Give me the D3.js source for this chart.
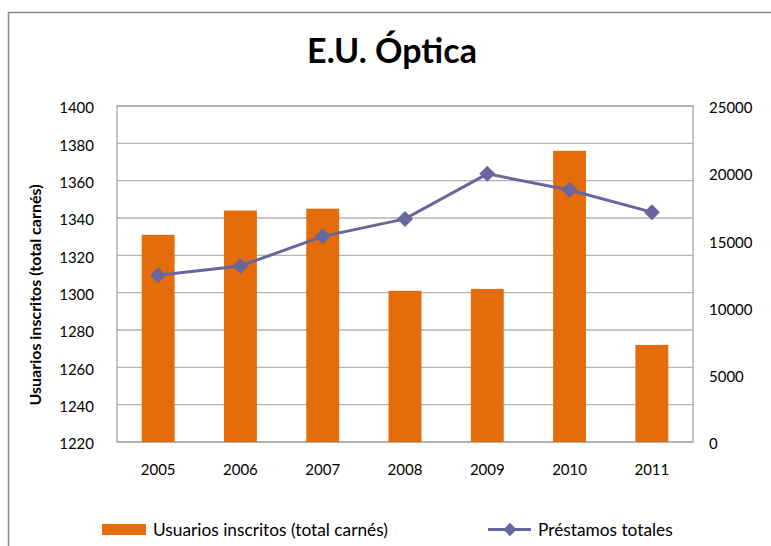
<!DOCTYPE html>
<html>
  <head>
    <meta charset="utf-8">
    <title>E.U. Óptica</title>
    <script type="text/javascript" src="https://d3js.org/d3.v7.min.js"></script>
    <style>
      body { margin: 0; background: #fff; }
      text { font-family: Lato, "Open Sans", sans-serif; fill: #000; }
    </style>
  </head>
  <body>
    <div id="chart"></div>
    <script type="text/javascript">
        // data
        var years = ["2005", "2006", "2007", "2008", "2009", "2010", "2011"];
        var usuarios = [1331, 1344, 1345, 1301, 1302, 1376, 1272];
        var prestamos = [12400, 13100, 15300, 16600, 19950, 18750, 17100];
        var leftTicks = [1220, 1240, 1260, 1280, 1300, 1320, 1340, 1360, 1380, 1400];
        var rightTicks = [0, 5000, 10000, 15000, 20000, 25000];

        var width = 771, height = 546;
        var margin = {top: 106, right: 78, bottom: 104, left: 117};
        var barColor = "#E46C0A";
        var lineColor = "#67679D";

        var svg = d3.select("#chart")
            .append("svg")
            .attr("width", width)
            .attr("height", height);

        // outer chart frame (runs off the right and bottom edge)
        svg.append("rect")
            .attr("x", 8.5).attr("y", 12.5)
            .attr("width", 800).attr("height", 600)
            .attr("fill", "none")
            .attr("stroke", "#8a8a8a")
            .attr("stroke-width", 1.5);

        var x = d3.scaleBand()
            .domain(years)
            .range([margin.left, width - margin.right])
            .paddingInner(0.6)
            .paddingOuter(0.3);

        var y1 = d3.scaleLinear()
            .domain([1220, 1400])
            .range([height - margin.bottom, margin.top]);

        var y2 = d3.scaleLinear()
            .domain([0, 25000])
            .range([height - margin.bottom, margin.top]);

        // gridlines
        svg.append("g")
            .selectAll("line")
            .data(leftTicks)
            .enter()
            .append("line")
                .attr("x1", margin.left)
                .attr("x2", width - margin.right)
                .attr("y1", function(d){ return y1(d); })
                .attr("y2", function(d){ return y1(d); })
                .attr("stroke", "#b3b3b3")
                .attr("stroke-width", 1.3);

        // plot border
        svg.append("rect")
            .attr("x", margin.left)
            .attr("y", margin.top)
            .attr("width", width - margin.right - margin.left)
            .attr("height", height - margin.bottom - margin.top)
            .attr("fill", "none")
            .attr("stroke", "#a6a6a6")
            .attr("stroke-width", 1.3);

        // left axis
        var leftAxis = svg.append("g")
            .attr("transform", "translate(" + margin.left + ",0)")
            .call(d3.axisLeft(y1).tickValues(leftTicks).tickSize(0).tickPadding(23).tickFormat(d3.format("d")));
        leftAxis.select(".domain").remove();
        leftAxis.selectAll("text")
            .attr("dy", "0.45em")
            .style("font-size", "15px");

        // right axis
        var rightAxis = svg.append("g")
            .attr("transform", "translate(" + (width - margin.right) + ",0)")
            .call(d3.axisRight(y2).tickValues(rightTicks).tickSize(0).tickPadding(16).tickFormat(d3.format("d")));
        rightAxis.select(".domain").remove();
        rightAxis.selectAll("text")
            .attr("dy", "0.45em")
            .style("font-size", "15px");

        // bottom axis
        var bottomAxis = svg.append("g")
            .attr("transform", "translate(0," + (height - margin.bottom) + ")")
            .call(d3.axisBottom(x).tickSize(0).tickPadding(22));
        bottomAxis.select(".domain").remove();
        bottomAxis.selectAll("text")
            .style("font-size", "15px");

        // bars
        svg.append("g")
            .selectAll("rect")
            .data(usuarios)
            .enter()
            .append("rect")
                .attr("x", function(d, i){ return x(years[i]); })
                .attr("y", function(d){ return y1(d); })
                .attr("width", x.bandwidth())
                .attr("height", function(d){ return y1(1220) - y1(d); })
                .attr("fill", barColor);

        // line
        var cx = function(i){ return x(years[i]) + x.bandwidth() / 2; };
        var line = d3.line()
            .x(function(d, i){ return cx(i); })
            .y(function(d){ return y2(d); });

        svg.append("path")
            .datum(prestamos)
            .attr("d", line)
            .attr("fill", "none")
            .attr("stroke", lineColor)
            .attr("stroke-width", 3);

        var diamond = d3.symbol().type(d3.symbolSquare).size(128);
        svg.append("g")
            .selectAll("path")
            .data(prestamos)
            .enter()
            .append("path")
                .attr("d", diamond)
                .attr("transform", function(d, i){
                    return "translate(" + cx(i) + "," + y2(d) + ") rotate(45)";
                })
                .attr("fill", lineColor);

        // title
        svg.append("text")
            .attr("x", 392)
            .attr("y", 63)
            .attr("text-anchor", "middle")
            .style("font-size", "34px")
            .style("font-weight", "bold")
            .text("E.U. Óptica");

        // y axis title
        svg.append("text")
            .attr("transform", "translate(41,295) rotate(-90)")
            .attr("text-anchor", "middle")
            .style("font-size", "16px")
            .style("font-weight", "bold")
            .text("Usuarios inscritos (total carnés)");

        // legend
        var legend = svg.append("g");
        legend.append("rect")
            .attr("x", 102).attr("y", 524)
            .attr("width", 44).attr("height", 11)
            .attr("fill", barColor);
        legend.append("text")
            .attr("x", 153).attr("y", 536)
            .style("font-size", "17.3px")
            .text("Usuarios inscritos (total carnés)");
        legend.append("line")
            .attr("x1", 488).attr("x2", 531)
            .attr("y1", 529.5).attr("y2", 529.5)
            .attr("stroke", lineColor)
            .attr("stroke-width", 3);
        legend.append("path")
            .attr("d", d3.symbol().type(d3.symbolSquare).size(90))
            .attr("transform", "translate(510,529.5) rotate(45)")
            .attr("fill", lineColor);
        legend.append("text")
            .attr("x", 538).attr("y", 536)
            .style("font-size", "17.3px")
            .text("Préstamos totales");
    </script>
  </body>
</html>
